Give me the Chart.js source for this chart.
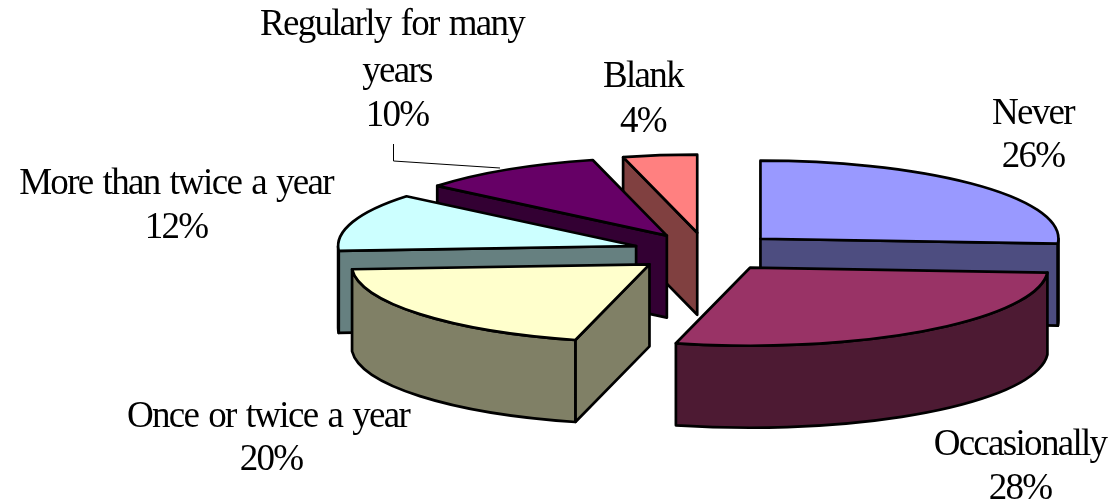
<!DOCTYPE html>
<html>
<head>
<meta charset="utf-8">
<title>Pie</title>
<script src="https://cdn.jsdelivr.net/npm/chart.js@4"></script>
<style>
    html, body { margin: 0; padding: 0; background: #fff; }
    #wrap { width: 1113px; height: 504px; }
</style>
</head>
<body>
<div id="wrap"><canvas id="pie" width="1113" height="504"></canvas></div>
<script>
const categories = ['Never', 'Occasionally', 'Once or twice a year', 'More than twice a year', 'Regularly for many\nyears', 'Blank'];
const values = [26, 28, 20, 12, 10, 4];
const topColors = ['#9999ff', '#993366', '#ffffcc', '#ccffff', '#660066', '#ff8080'];
const wallColors = ['#4d4d80', '#4d1a33', '#808066', '#668080', '#330033', '#804040'];

// where each label block sits: centre x and baseline of every line
const labelSpots = [
    { x: [1033, 1033], y: [124, 167] },
    { x: [1020, 1020], y: [455, 499] },
    { x: [268, 271], y: [427, 470] },
    { x: [176, 176], y: [194, 238] },
    { x: [392, 397, 397], y: [35, 82, 126] },
    { x: [643, 643], y: [87, 132] }
];

const SQUASH = 0.262;
const DEPTH = 82;
const EXPLODE = 74;

const pie3d = {
    id: 'pie3d',
    beforeDatasetDraw(chart, args) {
        const ctx = chart.ctx;
        const cy = (chart.chartArea.top + chart.chartArea.bottom) / 2;
        const arcs = args.meta.data.map((arc, i) => {
            const p = arc.getProps(['x', 'y', 'startAngle', 'endAngle', 'outerRadius']);
            const mid = (p.startAngle + p.endAngle) / 2;
            return {
                arc, i, mid,
                a0: p.startAngle,
                a1: p.endAngle,
                r: p.outerRadius,
                x: p.x + Math.cos(mid) * EXPLODE,
                y: cy + (p.y - cy + Math.sin(mid) * EXPLODE) * SQUASH
            };
        });

        // back slices first
        arcs.sort((a, b) => Math.sin(a.mid) - Math.sin(b.mid));

        ctx.save();
        ctx.lineWidth = 2.7;
        ctx.lineJoin = 'round';
        ctx.strokeStyle = '#000';
        arcs.forEach(s => {
            const ry = s.r * SQUASH;
            const px = a => s.x + Math.cos(a) * s.r;
            const py = a => s.y + Math.sin(a) * ry;

            ctx.fillStyle = wallColors[s.i];
            const cutWall = a => {
                ctx.beginPath();
                ctx.moveTo(s.x, s.y);
                ctx.lineTo(px(a), py(a));
                ctx.lineTo(px(a), py(a) + DEPTH);
                ctx.lineTo(s.x, s.y + DEPTH);
                ctx.closePath();
                ctx.fill();
                ctx.stroke();
            };
            if (Math.cos(s.a0) < -1e-6) cutWall(s.a0);
            if (Math.cos(s.a1) > 1e-6) cutWall(s.a1);

            // outer rim, only the part that faces us
            const from = Math.max(s.a0, 0);
            const to = Math.min(s.a1, Math.PI);
            if (to > from) {
                ctx.beginPath();
                ctx.ellipse(s.x, s.y, s.r, ry, 0, from, to);
                ctx.ellipse(s.x, s.y + DEPTH, s.r, ry, 0, to, from, true);
                ctx.closePath();
                ctx.fill();
                ctx.stroke();
            }

            // slice top comes from the library, squashed and pushed out
            ctx.save();
            ctx.translate(0, cy);
            ctx.scale(1, SQUASH);
            ctx.translate(0, -cy);
            ctx.translate(Math.cos(s.mid) * EXPLODE, Math.sin(s.mid) * EXPLODE);
            s.arc.draw(ctx);
            ctx.restore();

            ctx.beginPath();
            ctx.moveTo(s.x, s.y);
            ctx.ellipse(s.x, s.y, s.r, ry, 0, s.a0, s.a1);
            ctx.closePath();
            ctx.stroke();
        });
        ctx.restore();
        return false;
    },
    afterDraw(chart) {
        const ctx = chart.ctx;
        ctx.save();
        // leader line of the Regularly label
        ctx.strokeStyle = '#000';
        ctx.lineWidth = 1;
        ctx.beginPath();
        ctx.moveTo(393.5, 144);
        ctx.lineTo(393.5, 161);
        ctx.lineTo(500, 168);
        ctx.stroke();

        ctx.fillStyle = '#000';
        ctx.font = '37px "Liberation Serif"';
        ctx.letterSpacing = '-1.7px';
        ctx.wordSpacing = '2.5px';
        ctx.textAlign = 'center';
        ctx.textBaseline = 'alphabetic';
        const total = values.reduce((a, b) => a + b, 0);
        categories.forEach((name, i) => {
            const lines = name.split('\n').concat(Math.round(values[i] / total * 100) + '%');
            lines.forEach((line, j) => ctx.fillText(line, labelSpots[i].x[j], labelSpots[i].y[j]));
        });
        ctx.restore();
    }
};

new Chart(document.getElementById('pie'), {
    type: 'pie',
    data: {
        labels: categories,
        datasets: [{
            data: values,
            backgroundColor: topColors,
            borderWidth: 0
        }]
    },
    options: {
        responsive: false,
        animation: false,
        radius: 298,
        layout: { padding: { left: 300 } },
        plugins: { legend: { display: false }, tooltip: { enabled: false } }
    },
    plugins: [pie3d]
});
</script>
</body>
</html>
